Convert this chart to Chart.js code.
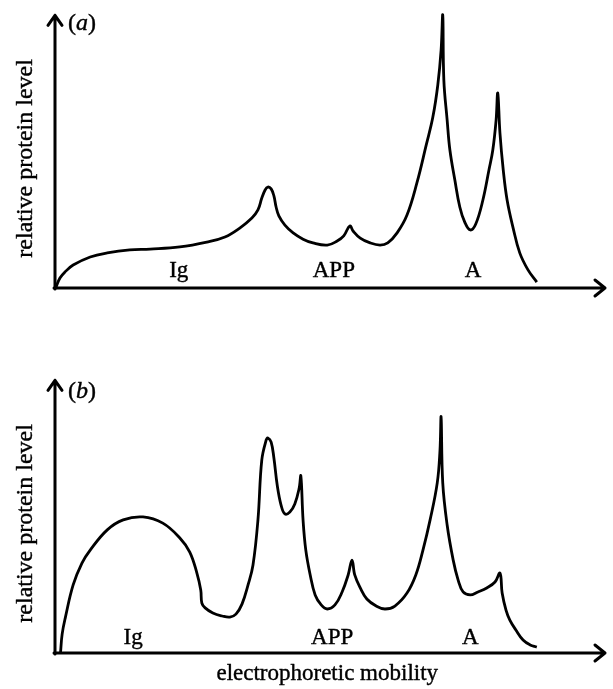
<!DOCTYPE html>
<html>
<head>
<meta charset="utf-8">
<script src="https://cdn.jsdelivr.net/npm/chart.js@4.4.1/dist/chart.umd.min.js"></script>
<style>
  body { margin: 0; background: #fff; }
  #wrap { position: relative; width: 613px; height: 689px; }
  canvas { position: absolute; left: 0; }
</style>
</head>
<body>
<div id="wrap">
  <canvas id="chartA" width="613" height="330" style="top:0"></canvas>
  <canvas id="chartB" width="613" height="359" style="top:330px"></canvas>
</div>
<script>
// values (mobility 0-100 along x, relative level 0-100 up y)
const mobilityA = [0.2, 0.9, 1.8, 3.3, 6.4, 9.5, 13.6, 17.3, 22.7, 27.6, 30.9, 33.6, 35.8, 36.9, 37.6, 38.2, 38.7, 39.3, 39.8, 40.2, 40.7, 41.8, 43.3, 45.1, 46.9, 49.5, 51.3, 52.5, 53.6, 54.2, 55.5, 57.3, 59.1, 60.5, 62.2, 64.0, 65.8, 67.5, 68.7, 69.6, 70.2, 70.5, 70.7, 71.3, 71.8, 72.7, 73.6, 74.5, 75.5, 76.5, 77.8, 78.9, 79.6, 80.2, 80.5, 80.9, 81.5, 82.2, 83.3, 84.5, 86.0, 87.6];
const levelA    = [0.4, 3.7, 5.9, 8.5, 11.5, 13.0, 14.1, 14.4, 15.2, 17.0, 18.9, 22.2, 25.9, 28.9, 33.3, 36.3, 37.4, 36.7, 34.1, 30.0, 26.7, 23.3, 20.4, 18.1, 16.7, 15.9, 17.4, 19.3, 23.0, 21.1, 18.5, 16.7, 15.9, 16.7, 20.4, 27.0, 38.9, 53.0, 63.3, 75.2, 88.1, 101.1, 77.0, 62.2, 51.1, 40.0, 30.0, 24.4, 21.5, 23.7, 32.6, 43.7, 51.1, 62.2, 72.2, 57.4, 43.7, 32.6, 22.2, 13.0, 6.7, 2.2];

const mobilityB = [1.0, 1.3, 1.9, 3.3, 4.9, 6.4, 9.5, 12.4, 16.0, 19.6, 22.7, 24.5, 25.8, 26.5, 26.7, 27.3, 28.7, 30.4, 31.8, 32.9, 34.0, 35.1, 36.0, 36.9, 37.6, 38.4, 38.7, 39.3, 39.8, 40.4, 41.1, 41.8, 42.7, 43.6, 44.4, 44.7, 45.1, 45.6, 46.4, 47.3, 48.4, 49.5, 50.9, 52.2, 53.3, 54.0, 54.5, 55.5, 56.7, 58.4, 60.0, 61.8, 64.0, 65.6, 66.9, 68.2, 69.5, 70.0, 70.2, 70.5, 71.3, 72.4, 73.3, 74.2, 75.5, 76.9, 78.5, 80.0, 80.9, 81.3, 82.0, 82.7, 83.8, 85.1, 86.4, 87.6];
const levelB    = [0, 7.0, 13.3, 25.2, 33.3, 38.1, 45.6, 49.3, 50.4, 48.1, 42.6, 37.4, 29.6, 23.3, 18.5, 16.7, 14.8, 13.7, 13.3, 14.4, 18.1, 25.2, 32.6, 49.3, 71.5, 78.9, 79.6, 78.1, 72.2, 62.2, 54.8, 51.5, 52.2, 55.2, 61.1, 65.6, 49.3, 38.1, 28.9, 21.5, 17.8, 16.3, 17.8, 22.6, 28.9, 34.4, 28.9, 24.1, 20.0, 17.4, 16.3, 17.4, 22.2, 28.9, 38.1, 49.3, 63.0, 75.2, 87.4, 63.0, 47.4, 34.4, 27.0, 22.6, 21.5, 22.6, 24.1, 26.3, 29.6, 22.2, 15.9, 12.2, 8.5, 4.8, 3.0, 2.2];

const regionNames = ['Ig', 'APP', 'A'];
const regionMobilityA = [22.5, 50.7, 76.0];
const regionMobilityB = [14.2, 50.4, 75.5];

const serif = "'Liberation Serif', 'Times New Roman', serif";

// hand-drawn style axes with open arrow heads, plus the text
const sketchAxes = {
  id: 'sketchAxes',
  afterDatasetsDraw(chart, args, opts) {
    const ctx = chart.ctx;
    const x = chart.scales.x, y = chart.scales.y;
    const x0 = x.getPixelForValue(0), y0 = y.getPixelForValue(0);
    const yTip = y.getPixelForValue(101);
    const xTip = x.getPixelForValue(100);
    ctx.save();
    ctx.strokeStyle = '#000';
    ctx.lineWidth = 3;
    ctx.lineCap = 'round';
    ctx.lineJoin = 'round';
    ctx.beginPath();
    ctx.moveTo(x0, y0 + 1);
    ctx.lineTo(x0, yTip);
    ctx.moveTo(x0 - 7, yTip + 10);
    ctx.lineTo(x0, yTip);
    ctx.lineTo(x0 + 7, yTip + 10);
    ctx.stroke();
    ctx.beginPath();
    ctx.moveTo(x0 - 1, y0);
    ctx.lineTo(xTip, y0);
    ctx.moveTo(xTip - 10, y0 - 8);
    ctx.lineTo(xTip, y0);
    ctx.lineTo(xTip - 10, y0 + 8);
    ctx.stroke();

    // scanned text looks a touch heavier, so give it a thin outline
    ctx.fillStyle = '#000';
    ctx.lineWidth = 0.4;
    const ink = (s, px, py) => { ctx.fillText(s, px, py); ctx.strokeText(s, px, py); };

    ctx.font = '23px ' + serif;
    ctx.textBaseline = 'alphabetic';
    ctx.textAlign = 'center';
    opts.regionX.forEach((m, i) => {
      ink(regionNames[i], x.getPixelForValue(m), y.getPixelForValue(opts.regionY));
    });

    // panel tag like (a) with italic letter
    const tagY = yTip + opts.tagDy;
    ctx.textAlign = 'left';
    ctx.textBaseline = 'middle';
    let tx = 68;
    ctx.font = '24px ' + serif;
    ink('(', tx, tagY);
    tx += ctx.measureText('(').width;
    ctx.font = 'italic 24px ' + serif;
    ink(opts.tag, tx, tagY);
    tx += ctx.measureText(opts.tag).width;
    ctx.font = '24px ' + serif;
    ink(')', tx, tagY);

    // rotated y title
    ctx.save();
    ctx.translate(26, y.getPixelForValue(48));
    ctx.rotate(-Math.PI / 2);
    ctx.textAlign = 'center';
    ctx.textBaseline = 'middle';
    ctx.font = '24px ' + serif;
    ink('relative protein level', 0, 0);
    ctx.restore();

    if (opts.xTitle) {
      ctx.font = '23px ' + serif;
      ctx.textAlign = 'center';
      ctx.textBaseline = 'alphabetic';
      ink(opts.xTitle, x.getPixelForValue(49.5), y0 + 27);
    }
    ctx.restore();
  }
};

function makePanel(id, xs, ys, pad, extra) {
  return new Chart(document.getElementById(id), {
    type: 'line',
    data: {
      datasets: [{
        data: xs.map((v, i) => ({ x: v, y: ys[i] })),
        borderColor: '#000',
        borderWidth: 2.8,
        pointRadius: 0,
        tension: 0.4,
        clip: false
      }]
    },
    options: {
      responsive: false,
      animation: false,
      devicePixelRatio: 1,
      layout: { padding: pad },
      plugins: {
        legend: { display: false },
        tooltip: { enabled: false },
        sketchAxes: extra
      },
      scales: {
        x: { type: 'linear', min: 0, max: 100, display: false },
        y: { min: 0, max: 100, display: false }
      }
    },
    plugins: [sketchAxes]
  });
}

makePanel('chartA', mobilityA, levelA,
  { left: 55, right: 8, top: 18, bottom: 42 },
  { tag: 'a', tagDy: 8, regionX: regionMobilityA, regionY: 4.1 });

makePanel('chartB', mobilityB, levelB,
  { left: 55, right: 8, top: 53, bottom: 36 },
  { tag: 'b', tagDy: 11, regionX: regionMobilityB, regionY: 3.3, xTitle: 'electrophoretic mobility' });
</script>
</body>
</html>
